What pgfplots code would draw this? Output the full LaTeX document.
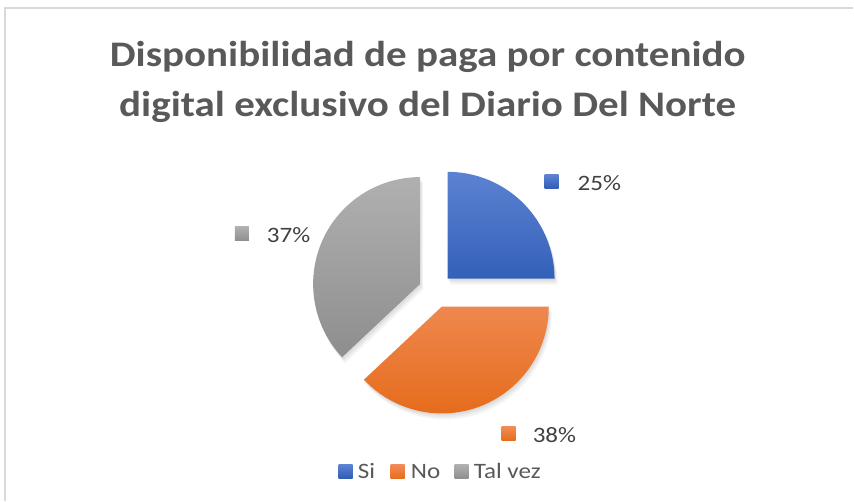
\documentclass[border=0pt]{standalone}
\usepackage{pgfplots}
\pgfplotsset{compat=1.18}
\usepackage{fontspec}
\setmainfont{Carlito}

\definecolor{txt}{HTML}{595959}
\definecolor{lbl}{HTML}{404040}
\definecolor{frame}{HTML}{D9D9D9}
\definecolor{siTop}{HTML}{5C82D2}
\definecolor{siBot}{HTML}{2E5DB6}
\definecolor{noTop}{HTML}{F08C56}
\definecolor{noBot}{HTML}{E66C1C}
\definecolor{tvTop}{HTML}{B0B0B0}
\definecolor{tvBot}{HTML}{8E8E8E}

% pie geometry in pixel units (1 unit = 1pt = 1px)
\def\pcx{436}
\def\pcy{210}
\def\prad{107}
\def\poff{17}

% slice: cumulative start (%), value (%), top colour, bottom colour
\newcommand\slice[4]{%
  \pgfmathsetmacro\sa{90-3.6*#1}%
  \pgfmathsetmacro\ea{90-3.6*(#1+#2)}%
  \pgfmathsetmacro\ma{(\sa+\ea)/2}%
  \edef\temp{%
    \noexpand\fill[black,opacity=0.05] (axis cs:\pcx,\pcy) ++(\ma:\poff pt) ++(1pt,-2pt) -- ++(\sa:\prad pt)
      arc[start angle=\sa,end angle=\ea,radius=\prad pt] -- cycle;
    \noexpand\fill[black,opacity=0.05] (axis cs:\pcx,\pcy) ++(\ma:\poff pt) ++(2pt,-4pt) -- ++(\sa:\prad pt)
      arc[start angle=\sa,end angle=\ea,radius=\prad pt] -- cycle;
    \noexpand\fill[black,opacity=0.04] (axis cs:\pcx,\pcy) ++(\ma:\poff pt) ++(3pt,-6pt) -- ++(\sa:\prad pt)
      arc[start angle=\sa,end angle=\ea,radius=\prad pt] -- cycle;
    \noexpand\shade[top color=#3,bottom color=#4] (axis cs:\pcx,\pcy) ++(\ma:\poff pt) -- ++(\sa:\prad pt)
      arc[start angle=\sa,end angle=\ea,radius=\prad pt] -- cycle;}%
  \temp}

\newcommand\swatch[4]{% x, y (top-left, pixel), top, bottom
  \shade[top color=#3,bottom color=#4] (axis cs:#1,501-#2) rectangle (axis cs:#1+14,501-#2-14);}

\tikzset{wide/.style={xscale=1.14, inner sep=0pt}}

\begin{document}
\begin{tikzpicture}
\begin{axis}[width=854pt, height=501pt, scale only axis,
  xmin=0, xmax=854, ymin=0, ymax=501, hide axis, clip=false]
\path (axis cs:0,0) rectangle (axis cs:854,501);
% chart area frame (cut by the page)
\draw[frame, line width=1.5pt] (axis cs:5,0) -- (axis cs:5,493) -- (axis cs:854,493);

% title
\node[wide, anchor=base, text=txt, font=\fontsize{36}{36}\selectfont\bfseries]
  at (axis cs:428,434) {Disponibilidad de paga por contenido};
\node[wide, anchor=base, text=txt, font=\fontsize{36}{36}\selectfont\bfseries]
  at (axis cs:428,384) {digital exclusivo del Diario Del Norte};

% slices: Si 25, No 38, Tal vez 37
\slice{0}{25}{siTop}{siBot}
\slice{25}{38}{noTop}{noBot}
\slice{63}{37}{tvTop}{tvBot}

% data labels
\swatch{545}{175}{siTop}{siBot}
\node[wide, anchor=base west, text=lbl, font=\fontsize{22}{22}\selectfont] at (axis cs:578,310) {25\%};
\swatch{502}{427}{noTop}{noBot}
\node[wide, anchor=base west, text=lbl, font=\fontsize{22}{22}\selectfont] at (axis cs:533,58) {38\%};
\swatch{235}{227}{tvTop}{tvBot}
\node[wide, anchor=base west, text=lbl, font=\fontsize{22}{22}\selectfont] at (axis cs:267,258) {37\%};

% legend
\swatch{339}{465}{siTop}{siBot}
\node[wide, anchor=base west, text=txt, font=\fontsize{22}{22}\selectfont] at (axis cs:358,22) {Si};
\swatch{391}{465}{noTop}{noBot}
\node[wide, anchor=base west, text=txt, font=\fontsize{22}{22}\selectfont] at (axis cs:411,22) {No};
\swatch{455}{465}{tvTop}{tvBot}
\node[wide, anchor=base west, text=txt, font=\fontsize{22}{22}\selectfont] at (axis cs:474,22) {Tal vez};
\end{axis}
\end{tikzpicture}
\end{document}
